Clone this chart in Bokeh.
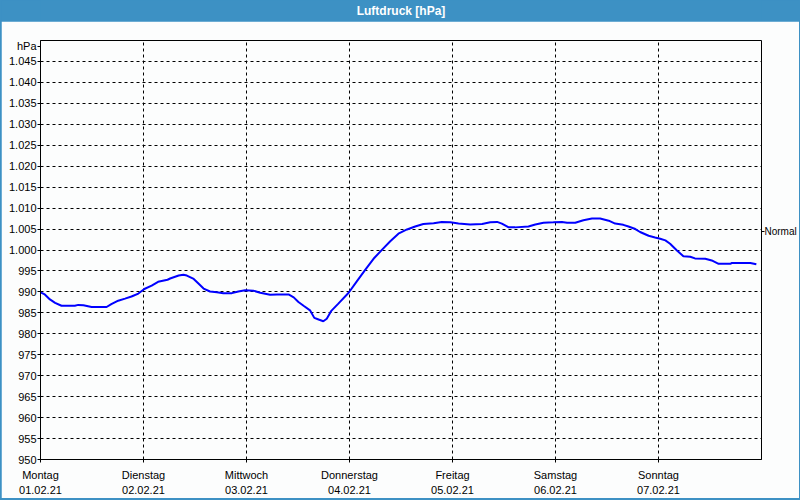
from bokeh.plotting import figure
from bokeh.models import Range1d, FixedTicker, LinearAxis, Label
from bokeh.layouts import column
from bokeh.embed import file_html
from bokeh.resources import INLINE

# ---------------- data ----------------
TITLE = "Luftdruck [hPa]"
UNIT = "hPa"
UNIT_POS = 1048.6          # where the unit caption sits on the value axis
NORMAL_LABEL = "Normal"
NORMAL_VALUE = 1004.4

day_names = ["Montag", "Dienstag", "Mittwoch", "Donnerstag", "Freitag", "Samstag", "Sonntag"]
day_dates = ["01.02.21", "02.02.21", "03.02.21", "04.02.21", "05.02.21", "06.02.21", "07.02.21"]
day_hours = [0, 24, 48, 72, 96, 120, 144]

y_ticks = list(range(950, 1050, 5))

hours = [0.0, 1.0, 2.2, 3.4, 4.9, 8.0, 8.8, 10.0, 11.9, 15.4, 16.5, 18.1, 19.7, 21.2, 22.8,
         24.2, 25.9, 27.4, 29.6, 30.2, 32.2, 33.3, 34.1, 35.7, 36.8, 38.0, 39.5, 41.1, 42.6,
         44.6, 46.1, 47.7, 49.6, 51.2, 53.5, 55.1, 57.8, 59.0, 60.1, 61.3, 62.8, 63.8, 64.8,
         65.9, 66.7, 67.7, 69.4, 71.8, 73.7, 75.7, 77.6, 79.6, 81.5, 83.4, 85.4, 87.3, 89.2,
         91.6, 93.5, 95.5, 97.4, 100.1, 102.9, 104.8, 106.4, 107.5, 109.1, 110.6, 113.7,
         115.3, 117.2, 119.5, 121.5, 122.7, 124.6, 126.5, 128.5, 130.4, 132.4, 133.9, 135.8,
         137.0, 138.6, 139.7, 141.7, 143.2, 144.4, 145.6, 146.7, 148.3, 149.8, 151.4, 152.5,
         154.9, 156.4, 158.0, 160.7, 161.1, 165.4, 166.8]
pressure = [989.9, 989.4, 988.2, 987.4, 986.7, 986.7, 986.9, 986.8, 986.4, 986.4, 987.1, 987.9,
            988.4, 988.9, 989.6, 990.7, 991.5, 992.4, 992.9, 993.2, 993.9, 994.1, 993.9, 993.1,
            992.0, 990.8, 990.1, 989.9, 989.7, 989.7, 990.1, 990.4, 990.3, 989.8, 989.3, 989.4,
            989.4, 988.7, 987.6, 986.7, 985.6, 983.8, 983.4, 983.0, 983.6, 985.4, 987.2, 989.8,
            992.5, 995.3, 997.9, 1000.1, 1002.1, 1003.9, 1004.9, 1005.6, 1006.2, 1006.4, 1006.7,
            1006.6, 1006.3, 1006.1, 1006.2, 1006.6, 1006.7, 1006.3, 1005.4, 1005.4, 1005.6,
            1006.1, 1006.5, 1006.6, 1006.7, 1006.5, 1006.5, 1007.1, 1007.5, 1007.5, 1007.0,
            1006.3, 1006.0, 1005.6, 1005.0, 1004.3, 1003.4, 1003.0, 1002.7, 1002.3, 1001.5,
            999.9, 998.5, 998.4, 998.0, 997.9, 997.5, 996.7, 996.7, 996.9, 996.9, 996.6]

# ---------------- style ----------------
BLUE = "#3d91c4"
BG = "#fcfdfd"
FONT = "Liberation Sans"

# title bar
tf = figure(width=798, height=21, x_range=Range1d(0, 1), y_range=Range1d(0, 1),
            toolbar_location=None, output_backend="svg", min_border=0,
            background_fill_color=BLUE, border_fill_color=BLUE, outline_line_color=None,
            x_axis_type=None, y_axis_type=None)
tf.add_layout(Label(x=0.5, y=0.5, text=TITLE, text_align="center", text_baseline="middle",
                    text_color="white", text_font=FONT, text_font_size="12px",
                    text_font_style="bold"))

# main chart
p = figure(width=798, height=477, x_range=Range1d(0, 168), y_range=Range1d(950, 1050),
           toolbar_location=None, output_backend="svg",
           min_border_left=39, min_border_right=38, min_border_top=19, min_border_bottom=38,
           background_fill_color=BG, border_fill_color=BG,
           outline_line_color="black", outline_line_width=1)

xt = FixedTicker(ticks=day_hours)
yt = FixedTicker(ticks=y_ticks)
p.xaxis.ticker = xt
p.yaxis.ticker = FixedTicker(ticks=y_ticks + [UNIT_POS])
p.xgrid.ticker = xt
p.ygrid.ticker = yt
p.xaxis.major_label_overrides = {h: f"{n}\n{d}" for h, n, d in zip(day_hours, day_names, day_dates)}
yl = {t: f"{t:,}".replace(",", ".") for t in y_ticks}
yl[UNIT_POS] = UNIT
p.yaxis.major_label_overrides = yl

for ax in (p.xaxis[0], p.yaxis[0]):
    ax.axis_line_color = "black"
    ax.major_tick_line_color = "black"
    ax.major_tick_in = 0
    ax.major_tick_out = 3
    ax.minor_tick_out = 0
    ax.minor_tick_in = 0
    ax.major_label_text_font = FONT
    ax.major_label_text_font_size = "11px"
    ax.major_label_text_color = "black"
p.yaxis.major_label_standoff = 1
p.xaxis.major_label_standoff = 6
p.xaxis.major_label_text_line_height = 1.25

for g in (p.xgrid[0], p.ygrid[0]):
    g.grid_line_color = "black"
    g.grid_line_dash = "3 3"
    g.grid_line_width = 1
    g.grid_line_alpha = 1

# right axis with the "normal" mark
ra = LinearAxis(ticker=FixedTicker(ticks=[NORMAL_VALUE]), axis_line_color=None,
                major_tick_in=0, major_tick_out=3, major_tick_line_color="black",
                minor_tick_out=0, minor_tick_in=0,
                major_label_overrides={NORMAL_VALUE: NORMAL_LABEL},
                major_label_text_font=FONT, major_label_text_font_size="10px",
                major_label_text_color="black", major_label_standoff=0)
p.add_layout(ra, "right")

p.line(hours, pressure, line_color="#0000ff", line_width=2)

layout = column(tf, p, styles={"background-color": BLUE, "padding": "0px 1px 2px 1px"})

open("out.html", "w").write(file_html(layout, INLINE))
